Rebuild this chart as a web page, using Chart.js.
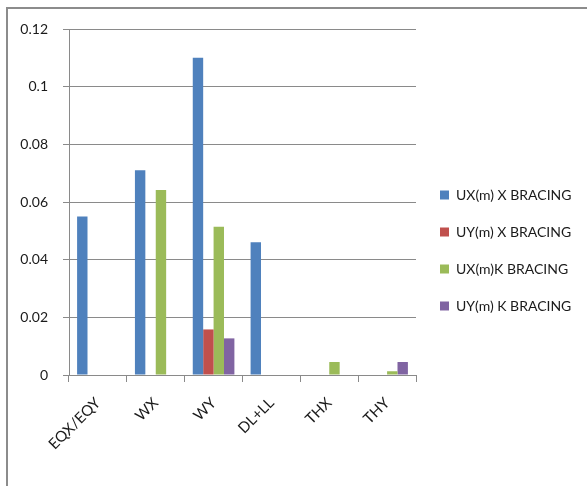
<!DOCTYPE html>
<html>
<head>
<meta charset="utf-8">
<script src="https://cdn.jsdelivr.net/npm/chart.js@4"></script>
<style>
  html, body { margin: 0; padding: 0; background: #fff; }
  body { width: 587px; height: 486px; overflow: hidden; position: relative; }
  #frame {
    position: absolute; left: 6px; top: 7px; width: 600px; height: 500px;
    border-left: 2px solid #8c8c8c; border-top: 2px solid #8c8c8c;
  }
  #wrap { position: absolute; left: 8px; top: 9px; width: 579px; height: 477px; }
</style>
</head>
<body>
<div id="frame"></div>
<div id="wrap"><canvas id="dispChart"></canvas></div>
<script>
// load cases on the x axis
const categories = ["EQX/EQY", "WX", "WY", "DL+LL", "THX", "THY"];

// displacements in metres for each bracing system
const uxXBracing = [0.055, 0.071, 0.110, 0.046, 0, 0];
const uyXBracing = [0, 0, 0.0158, 0, 0, 0];
const uxKBracing = [0, 0.0642, 0.0514, 0, 0.0045, 0.0013];
const uyKBracing = [0, 0, 0.0127, 0, 0, 0.0045];

const yTicks = [0, 0.02, 0.04, 0.06, 0.08, 0.1, 0.12];

const gridGrey = "#8a8a8a";
const font = { family: "Lato, sans-serif", size: 14 };

// fixed legend column width, nudged into place beside the plot
const legendBox = {
    id: "legendBox",
    afterInit(chart) {
        const fit = chart.legend.fit;
        chart.legend.fit = function () {
            fit.call(this);
            this.width = 171;
        };
    },
    afterLayout(chart) {
        chart.legend.left += 1;
        chart.legend.top -= 14;
    }
};

const ctx = document.querySelector("#dispChart").getContext("2d");

new Chart(ctx, {
    type: "bar",
    data: {
        labels: categories,
        datasets: [
            { label: "UX(m) X BRACING", data: uxXBracing, backgroundColor: "#4f81bd" },
            { label: "UY(m) X BRACING", data: uyXBracing, backgroundColor: "#c0504d" },
            { label: "UX(m)K BRACING", data: uxKBracing, backgroundColor: "#9bbb59" },
            { label: "UY(m) K BRACING", data: uyKBracing, backgroundColor: "#8064a2" }
        ]
    },
    plugins: [legendBox],
    options: {
        responsive: true,
        maintainAspectRatio: false,
        animation: false,
        layout: { padding: { top: 20, left: 0, right: 0, bottom: 0 } },
        datasets: {
            bar: { categoryPercentage: 0.72, barPercentage: 1.0 }
        },
        plugins: {
            tooltip: { enabled: false },
            legend: {
                position: "right",
                labels: {
                    color: "#1a1a1a",
                    font: font,
                    boxWidth: 9,
                    boxHeight: 9,
                    padding: 23
                }
            }
        },
        scales: {
            x: {
                afterFit: axis => { axis.height = 111; },
                grid: {
                    offset: true,
                    drawOnChartArea: false,
                    color: gridGrey,
                    tickLength: 7
                },
                border: { color: gridGrey },
                ticks: {
                    color: "#1a1a1a",
                    font: { family: font.family, size: 15 },
                    maxRotation: 45,
                    minRotation: 45,
                    padding: 12
                }
            },
            y: {
                min: 0,
                max: 0.12,
                afterFit: axis => {
                    axis.width = 61;
                    axis.paddingTop = 0;
                },
                afterBuildTicks: axis => {
                    axis.ticks = yTicks.map(v => ({ value: v }));
                },
                grid: { color: gridGrey, tickLength: 6 },
                border: { color: gridGrey },
                ticks: {
                    color: "#1a1a1a",
                    font: font,
                    padding: 15,
                    callback: v => String(+v.toFixed(2))
                }
            }
        }
    }
});
</script>
</body>
</html>
